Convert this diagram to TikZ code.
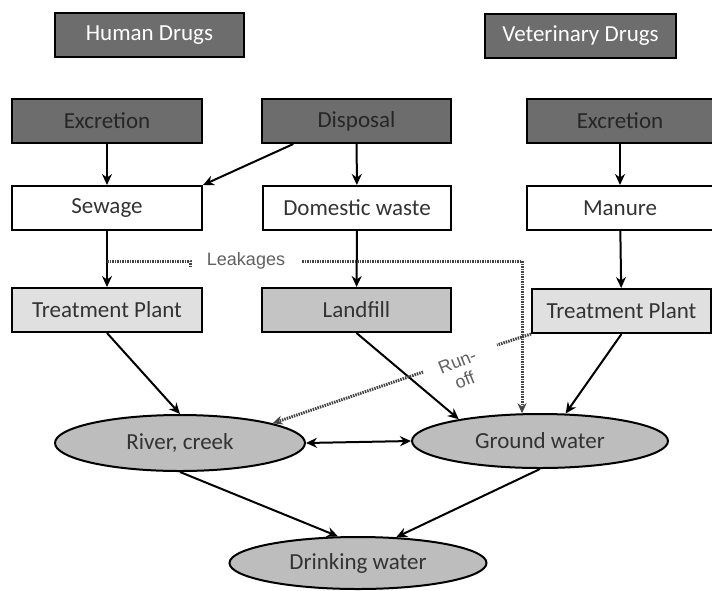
\documentclass[tikz,border=0pt]{standalone}
\usepackage{fontspec}
\setmainfont{Carlito}
\newfontfamily\labelfont{Liberation Sans}
\usetikzlibrary{arrows.meta,shapes.geometric}

\definecolor{darkfill}{HTML}{6D6D6D}
\definecolor{midfill}{HTML}{C4C4C4}
\definecolor{lightfill}{HTML}{E0E0E0}
\definecolor{waterfill}{HTML}{BDBDBD}
\definecolor{inktext}{HTML}{333333}
\definecolor{leakgray}{HTML}{444444}

\tikzset{
  box/.style={draw=black, line width=2pt, rectangle, minimum height=44pt,
    inner sep=0pt, text=inktext, font=\fontsize{23}{26}\selectfont},
  drugbox/.style={box, fill=darkfill, text=white},
  darkbox/.style={box, fill=darkfill, text=black!85},
  whitebox/.style={box, fill=white},
  lightbox/.style={box, fill=lightfill},
  midbox/.style={box, fill=midfill},
  water/.style={ellipse, draw=black, line width=2pt, fill=waterfill,
    inner sep=0pt, text=inktext, font=\fontsize{23}{26}\selectfont},
  flow/.style={line width=2pt, -{Stealth[length=11pt,width=10pt]}},
  leakline/.style={line width=3pt, draw=leakgray, dash pattern=on 1.5pt off 1pt},
  leaktext/.style={text=leakgray!85, inner sep=0pt,
    font=\labelfont\fontsize{18}{20}\selectfont}
}

\begin{document}
\begin{tikzpicture}[x=1pt,y=-1pt]
  \useasboundingbox (0,0) rectangle (712,590);

  % Sources
  \node[drugbox, minimum width=189pt] (hd) at (149.5,35) {Human Drugs};
  \node[drugbox, minimum width=191pt] (vd) at (580.5,35.5) {Veterinary Drugs};

  % Pathways, first row
  \node[darkbox, minimum width=190pt] (exl)  at (107,121)   {Excretion};
  \node[darkbox, minimum width=189pt] (disp) at (356.5,121) {Disposal};
  \node[darkbox, minimum width=186pt] (exr)  at (620,121)   {Excretion};

  % Second row
  \node[whitebox, minimum width=190pt] (sew) at (107,208)   {Sewage};
  \node[whitebox, minimum width=188pt] (dom) at (357,208)   {Domestic waste};
  \node[whitebox, minimum width=186pt] (man) at (620,208)   {Manure};

  % Third row
  \node[lightbox, minimum width=190pt] (tpl) at (107,310)   {Treatment Plant};
  \node[midbox,   minimum width=189pt] (lf)  at (356.5,310) {Landfill};
  \node[lightbox, minimum width=179pt] (tpr) at (621.5,311) {Treatment Plant};

  % Water bodies
  \node[water, minimum width=250pt, minimum height=56pt] (river) at (180,443) {River, creek};
  \node[water, minimum width=256pt, minimum height=54pt] (gw)    at (540,441) {Ground water};
  \node[water, minimum width=257pt, minimum height=52pt] (dw)    at (358,563) {Drinking water};

  % Solid flows
  \draw[flow] (exl) -- (sew);
  \draw[flow] (disp.200) -- (sew.north east);
  \draw[flow] (disp) -- (dom);
  \draw[flow] (exr) -- (man);
  \draw[flow] (sew) -- (tpl);
  \draw[flow] (dom) -- (lf);
  \draw[flow] (man) -- (tpr);
  \draw[flow] (tpl.south) -- (river.north);
  \draw[flow] (lf.south) -- (gw.165);
  \draw[flow] (tpr.south) -- (gw.47);
  \draw[line width=2pt, {Stealth[length=11pt,width=10pt]}-{Stealth[length=11pt,width=10pt]}]
    (river.east) -- (gw.west);
  \draw[flow] (river.south) -- (dw.127);
  \draw[flow] (gw.south) -- (dw.34);

  % Leakages
  \node[leaktext] (leak) at (246,261) {Leakages};
  \coordinate (lkA) at (107,261);
  \coordinate (lkB) at (190,261);
  \coordinate (lkC) at (302,261);
  \draw[leakline] (lkA) -- (lkB) -- ++(0,5);
  \draw[leakline, -{Stealth[length=10pt,width=9pt]}] (lkC) -| (gw.123);

  % Run-off
  \node[leaktext, rotate=22, align=center] (runoff) at (461,371) {Run-\\off};
  \coordinate (roA) at (497,345);
  \coordinate (roB) at (423,372);
  \draw[leakline] (tpr.south west) -- (roA);
  \draw[leakline, -{Stealth[length=10pt,width=9pt]}] (roB) -- (river.12);
\end{tikzpicture}
\end{document}
